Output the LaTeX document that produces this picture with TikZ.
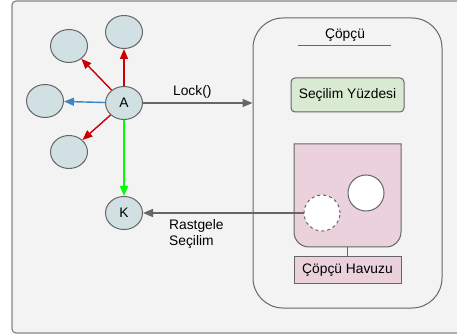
\documentclass[tikz,border=0pt]{standalone}
\usepackage{fontspec}
\setmainfont{Liberation Sans}
\usetikzlibrary{arrows.meta,shapes.geometric}
\definecolor{bgpanel}{HTML}{F3F3F3}
\definecolor{edgegray}{HTML}{666666}
\definecolor{nodefill}{HTML}{D0E0E3}
\definecolor{pctfill}{HTML}{D9EAD3}
\definecolor{poolfill}{HTML}{EAD1DC}
\definecolor{redarr}{HTML}{CC0000}
\definecolor{bluearr}{HTML}{3D85C6}
\definecolor{greenarr}{HTML}{00FF00}
\begin{document}
\begin{tikzpicture}[x=1pt,y=-1pt,
  every node/.style={font=\fontsize{13.8}{16.5}\selectfont, text=black},
  obj/.style={ellipse, draw=edgegray, line width=1pt, fill=nodefill,
    minimum width=37pt, minimum height=33pt, inner sep=0pt},
  tip/.style={-{Triangle[length=10pt,width=8pt]}, line width=1.4pt},
  grayline/.style={draw=edgegray, line width=1.3pt},
  labelbox/.style={draw=edgegray, line width=1pt, inner sep=0pt}]
\useasboundingbox (0,0) rectangle (457,336);
\clip (0,0) rectangle (457,336);
% panel
\draw[draw=edgegray!80, line width=1.2pt, fill=bgpanel, rounded corners=4pt]
  (12,1) rectangle (475,333);
% object graph
\node[obj] (A) at (124,103) {A};
\node[obj] (top) at (124,32) {};
\node[obj] (ul) at (69,46) {};
\node[obj] (lft) at (45,101) {};
\node[obj] (ll) at (69,152) {};
\node[obj] (K) at (124,213) {K};
\draw[tip, redarr] (A) -- (top);
\draw[tip, redarr] (A) -- (ul);
\draw[tip, bluearr] (A) -- (lft);
\draw[tip, redarr] (A) -- (ll);
\draw[tip, greenarr] (A) -- (K);
% collector
\node[labelbox, rounded corners=30pt, minimum width=189pt, minimum height=290pt]
  (cop) at (347.5,163) {};
\node (title) at (345,35) {Çöpçü};
\draw[grayline, line width=1pt] (298,46) -- (391,46);
\node[labelbox, fill=pctfill, rounded corners=4pt, minimum width=113pt,
  minimum height=34pt] (pct) at (347.5,95) {Seçilim Yüzdesi};
% pool
\draw[draw=edgegray, line width=1pt, fill=poolfill]
  (294,144) -- (401,144) -- (401,232) arc (0:90:15) -- (309,247)
  arc (90:180:15) -- cycle;
\coordinate (poolbot) at (347.5,247);
\node[circle, draw=edgegray, line width=1pt, fill=white, minimum size=36pt,
  inner sep=0pt] (live) at (366,193) {};
\node[circle, draw=edgegray, line width=1pt, dashed, fill=white,
  minimum size=36pt, inner sep=0pt] (dead) at (322,213) {};
\node[labelbox, fill=poolfill, minimum width=107pt, minimum height=26pt]
  (pool) at (347.5,270) {Çöpçü Havuzu};
\draw[grayline, line width=1pt] (poolbot) -- (pool.north);
% calls
\draw[tip, edgegray] (A) -- (A -| cop.west)
  node[pos=0.45, above=1pt] {Lock()};
\draw[tip, edgegray] (dead) -- (K);
\node[anchor=north west, align=left, inner sep=0pt] (rs) at (169,219)
  {Rastgele\\Seçilim};
\end{tikzpicture}
\end{document}
